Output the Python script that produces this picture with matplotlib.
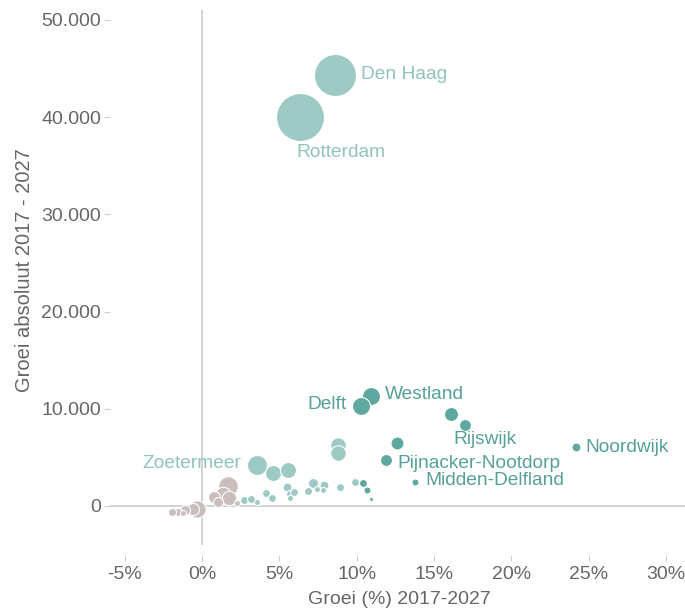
import matplotlib
matplotlib.use("Agg")
import matplotlib.pyplot as plt

plt.rcParams["font.family"] = ["Liberation Sans", "DejaVu Sans"]

# Gemeenten: groei (%) en groei absoluut 2017-2027, inwoners (x1000) voor de bolgrootte
names = ["Den Haag", "Rotterdam", "Zoetermeer", "", "", "", "", "", "", "", "", "", "", "", "",
         "", "", "", "", "", "", "", "",
         "Westland", "Delft", "", "Rijswijk", "Noordwijk", "", "Pijnacker-Nootdorp",
         "Midden-Delfland", "", "", "",
         "", "", "", "", "", "", "", "", "", "", "", ""]
groei_pct = [8.60, 6.34, 3.56, 4.59, 5.56, 8.80, 8.80, 2.72, 3.17, 3.56, 4.14, 4.53, 5.50, 5.69, 5.95,
             5.69, 6.86, 7.18, 7.44, 7.89, 7.83, 8.93, 9.90,
             10.93, 10.28, 16.11, 17.01, 24.19, 12.61, 11.90, 13.78, 10.41, 10.67, 10.93,
             1.68, 1.36, 1.75, 0.78, 1.03, 2.26, -0.32, -0.58, -1.10, -1.55, -1.94, -1.23]
groei_abs = [44350, 40030, 4220, 3400, 3700, 6280, 5450, 620, 720, 410, 1340, 820, 1960, 1230, 1440,
             820, 1540, 2370, 1750, 2160, 1650, 1960, 2470,
             11320, 10290, 9470, 8330, 6070, 6480, 4730, 2470, 2370, 1650, 720,
             2060, 1130, 820, 930, 410, 310, -310, -310, -410, -620, -620, -720]
inwoners = [530, 690, 120, 77, 77, 72, 72, 19, 19, 11, 19, 19, 24, 19, 19,
            11, 19, 30, 11, 24, 11, 19, 19,
            97, 97, 59, 43, 24, 51, 43, 15, 19, 15, 5,
            115, 80, 62, 43, 30, 11, 90, 43, 30, 19, 19, 11]
groep = ["licht"] * 23 + ["donker"] * 11 + ["beige"] * 12

kleur = {"licht": "#9dcac4", "donker": "#5fa8a0", "beige": "#c9bebb"}
tekst_kleur = {"licht": "#8fc3bc", "donker": "#55a199", "beige": "#b8aca9"}

# label offsets in pixels (dx, dy, ha)
label_pos = {
    "Den Haag": (26, 0, "left"),
    "Rotterdam": (-4, -36, "left"),
    "Zoetermeer": (-16, 1, "right"),
    "Westland": (14, 1, "left"),
    "Delft": (-14, 1, "right"),
    "Rijswijk": (-12, -14, "left"),
    "Noordwijk": (9, -1, "left"),
    "Pijnacker-Nootdorp": (11, -3, "left"),
    "Midden-Delfland": (10, 1, "left"),
}

fig = plt.figure(figsize=(6.85, 6.14), dpi=100)
ax = fig.add_axes([110 / 685, 69 / 614, 575 / 685, 535 / 614])

xmin, xmax = (110 - 202) / 15.46, (685 - 202) / 15.46
ymin, ymax = -(545 - 506) / 97.2 * 10000, (506 - 10) / 97.2 * 10000
ax.set_xlim(xmin, xmax)
ax.set_ylim(ymin, ymax)

ax.axhline(0, color="#c8c8c8", lw=1.1, zorder=1)
ax.axvline(0, color="#c8c8c8", lw=1.1, zorder=1)

order = sorted(range(len(groei_pct)), key=lambda i: -inwoners[i])
for i in order:
    ax.scatter(groei_pct[i], groei_abs[i], s=1.73 * inwoners[i], color=kleur[groep[i]],
               edgecolor="white", linewidth=0.8, zorder=2)

for i, n in enumerate(names):
    if n:
        dx, dy, ha = label_pos[n]
        ax.annotate(n, (groei_pct[i], groei_abs[i]), xytext=(dx * 0.72, dy * 0.72),
                    textcoords="offset points", ha=ha, va="center", fontsize=13.8,
                    color=tekst_kleur[groep[i]], zorder=3)

for s in ax.spines.values():
    s.set_visible(False)
ax.spines["bottom"].set_position(("outward", 7))

xticks = [-5, 0, 5, 10, 15, 20, 25, 30]
yticks = [0, 10000, 20000, 30000, 40000, 50000]
ax.set_xticks(xticks)
ax.set_xticklabels([f"{t}%" for t in xticks])
ax.set_yticks(yticks)
ax.set_yticklabels(["0" if t == 0 else f"{t // 1000}.000" for t in yticks])
ax.tick_params(axis="both", colors="#cccccc", labelcolor="#666666", labelsize=14,
               length=4.3, width=0.8)
ax.tick_params(axis="y", pad=2)
ax.tick_params(axis="x", pad=4)

ax.set_xlabel("Groei (%) 2017-2027", fontsize=14, color="#666666")
ax.set_ylabel("Groei absoluut 2017 - 2027", fontsize=14.5, color="#666666")
ax.xaxis.set_label_coords((399 - 110) / 575, -(591 - 545) / 535)
ax.yaxis.set_label_coords(-(110 - 34) / 575, (545 - 270) / 535)

fig.savefig("out.png", dpi=100)
